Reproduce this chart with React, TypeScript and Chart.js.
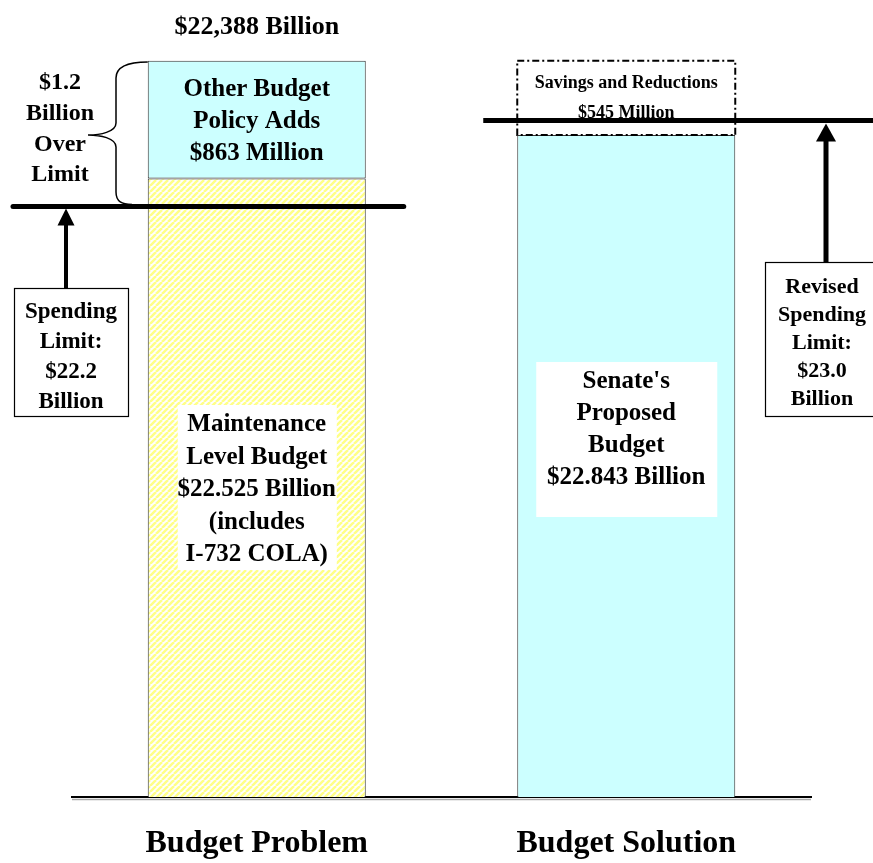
import React, { useEffect, useRef } from "react";
import { Chart, registerables } from "chart.js";

Chart.register(...registerables);

// ---- data ----
const categories = ["Budget Problem", "Budget Solution"];
const maintenanceLevel = [22.525, null];
const otherPolicyAdds = [0.863, null];
const senateProposed = [null, 22.843];
const savingsReductions = [null, 0.545];
// spending-limit lines, at the level they are drawn in the picture
const limitLineLevels = [22.32, 22.95];
const axisMin = 18.0;
const axisMax = 23.7;

// ---- labels ----
const topLabel = "$22,388 Billion";
const overLimitLines = ["$1.2", "Billion", "Over", "Limit"];
const otherAddsLines = ["Other Budget", "Policy Adds", "$863 Million"];
const maintenanceLines = ["Maintenance", "Level Budget", "$22.525 Billion", "(includes", "I-732 COLA)"];
const senateLines = ["Senate's", "Proposed", "Budget", "$22.843 Billion"];
const savingsLines = ["Savings and Reductions", "$545 Million"];
const limitBoxLines = ["Spending", "Limit:", "$22.2", "Billion"];
const revisedBoxLines = ["Revised", "Spending", "Limit:", "$23.0", "Billion"];

const FAMILY = '"Liberation Serif", "Times New Roman", serif';
const font = (s: number) => `bold ${s}px ${FAMILY}`;

function drawLines(ctx: CanvasRenderingContext2D, lines: string[], cx: number, y0: number, step: number, size: number) {
  ctx.save();
  ctx.font = font(size);
  ctx.fillStyle = "#000";
  ctx.textAlign = "center";
  ctx.textBaseline = "middle";
  lines.forEach((t, i) => ctx.fillText(t, cx, y0 + i * step));
  ctx.restore();
}

function arrowUp(ctx: CanvasRenderingContext2D, x: number, tipY: number, headH: number, headHalfW: number, shaftW: number, endY: number) {
  ctx.save();
  ctx.fillStyle = "#000";
  ctx.fillRect(x - shaftW / 2, tipY + headH - 1, shaftW, endY - (tipY + headH - 1));
  ctx.beginPath();
  ctx.moveTo(x, tipY);
  ctx.lineTo(x - headHalfW, tipY + headH);
  ctx.lineTo(x + headHalfW, tipY + headH);
  ctx.closePath();
  ctx.fill();
  ctx.restore();
}

function box(ctx: CanvasRenderingContext2D, x: number, y: number, w: number, h: number, stroke: boolean) {
  ctx.save();
  ctx.fillStyle = "#fff";
  ctx.fillRect(x, y, w, h);
  if (stroke) {
    ctx.strokeStyle = "#000";
    ctx.lineWidth = 1.2;
    ctx.strokeRect(x + 0.5, y + 0.5, w, h);
  }
  ctx.restore();
}

const annotations = {
  id: "annotations",
  afterDatasetsDraw(chart: any) {
    const ctx: CanvasRenderingContext2D = chart.ctx;
    const ys = chart.scales.y;
    const area = chart.chartArea;
    const left: any = chart.getDatasetMeta(0).data[0];
    const right: any = chart.getDatasetMeta(2).data[1];
    const sav: any = chart.getDatasetMeta(3).data[1];
    const lx = left.x;
    const rx = right.x;
    const bw = right.width;

    // dash-dot box for savings
    ctx.save();
    ctx.strokeStyle = "#000";
    ctx.lineWidth = 2;
    ctx.setLineDash([7, 3, 2, 3]);
    ctx.strokeRect(sav.x - bw / 2, sav.y, bw, sav.base - sav.y);
    ctx.restore();

    // text over bars
    drawLines(ctx, [topLabel], lx, 27, 0, 26);
    drawLines(ctx, otherAddsLines, lx, 90, 32, 25);
    box(ctx, lx - 79, 405, 159, 165, false);
    drawLines(ctx, maintenanceLines, lx, 425, 32.5, 25);
    box(ctx, rx - 90, 362, 181, 155, false);
    drawLines(ctx, senateLines, rx, 382, 32, 25);
    drawLines(ctx, savingsLines, rx, 83, 30, 18);
    drawLines(ctx, overLimitLines, 60, 83, 30.7, 24);

    // spending limit lines
    const y1 = ys.getPixelForValue(limitLineLevels[0]);
    const y2 = ys.getPixelForValue(limitLineLevels[1]);
    ctx.save();
    ctx.strokeStyle = "#000";
    ctx.lineWidth = 5;
    ctx.lineCap = "round";
    ctx.beginPath();
    ctx.moveTo(13, y1);
    ctx.lineTo(lx + 147, y1);
    ctx.stroke();
    ctx.lineCap = "butt";
    ctx.beginPath();
    ctx.moveTo(rx - 143, y2);
    ctx.lineTo(chart.width, y2);
    ctx.stroke();
    ctx.restore();

    // bracket
    ctx.save();
    ctx.strokeStyle = "#000";
    ctx.lineWidth = 1.5;
    ctx.beginPath();
    ctx.moveTo(lx - bw / 2, 62);
    ctx.bezierCurveTo(128, 62, 116, 66, 116, 78);
    ctx.lineTo(116, 123);
    ctx.bezierCurveTo(116, 132, 100, 135, 88, 135);
    ctx.bezierCurveTo(100, 135, 116, 138, 116, 147);
    ctx.lineTo(116, 192);
    ctx.bezierCurveTo(116, 202, 122, 204, 132, y1 - 2);
    ctx.stroke();
    ctx.restore();

    // arrows and boxes
    arrowUp(ctx, 66, y1 + 2, 17, 8.5, 4, 289);
    box(ctx, 14, 288, 114, 128, true);
    drawLines(ctx, limitBoxLines, 71, 312, 30, 23);

    arrowUp(ctx, 826, y2 + 3, 18, 10, 5, 263);
    box(ctx, 765, 262, 115, 154, true);
    drawLines(ctx, revisedBoxLines, 822, 287, 28, 22);

    // shadow under baseline
    ctx.save();
    ctx.strokeStyle = "#aaa";
    ctx.lineWidth = 1.5;
    ctx.beginPath();
    ctx.moveTo(area.left, area.bottom + 2.5);
    ctx.lineTo(area.right, area.bottom + 2.5);
    ctx.stroke();
    ctx.restore();
  },
};

export default function App() {
  const ref = useRef<HTMLCanvasElement>(null);
  useEffect(() => {
    const canvas = ref.current!;
    const pc = document.createElement("canvas");
    pc.width = 6;
    pc.height = 6;
    const p = pc.getContext("2d")!;
    p.fillStyle = "#ffffff";
    p.fillRect(0, 0, 6, 6);
    p.strokeStyle = "#ffff88";
    p.lineWidth = 2.5;
    for (const off of [-6, 0, 6]) {
      p.beginPath();
      p.moveTo(off, 6);
      p.lineTo(off + 6, 0);
      p.stroke();
    }
    const pattern = canvas.getContext("2d")!.createPattern(pc, "repeat")!;

    const common = { borderColor: "#333", borderWidth: 1, borderSkipped: false, clip: 0, barPercentage: 0.59, categoryPercentage: 1 };
    const chart = new Chart(canvas, {
      type: "bar",
      data: {
        labels: categories,
        datasets: [
          { label: "Maintenance Level Budget", data: maintenanceLevel, backgroundColor: pattern, ...common },
          { label: "Other Budget Policy Adds", data: otherPolicyAdds, backgroundColor: "#ccffff", ...common },
          { label: "Senate's Proposed Budget", data: senateProposed, backgroundColor: "#ccffff", ...common },
          { label: "Savings and Reductions", data: savingsReductions, backgroundColor: "rgba(0,0,0,0)", ...common, borderWidth: 0 },
        ] as any,
      },
      options: {
        responsive: false,
        animation: false,
        devicePixelRatio: 1,
        layout: { padding: { left: 72, right: 62, top: 18, bottom: 0 } },
        plugins: { legend: { display: false }, tooltip: { enabled: false }, title: { display: false } },
        scales: {
          x: {
            stacked: true,
            z: 1,
            grid: { display: false, drawTicks: false },
            border: { display: true, color: "#000", width: 2 },
            ticks: { color: "#000", maxRotation: 0, padding: 28, font: { family: FAMILY, size: 32, weight: "bold" } },
            afterFit: (s: any) => {
              s.height = 66;
            },
          },
          y: { stacked: true, display: false, min: axisMin, max: axisMax },
        },
      } as any,
      plugins: [annotations],
    });
    return () => chart.destroy();
  }, []);
  return (
    <div style={{ position: "fixed", left: 0, top: 0, width: 873, height: 863, background: "#fff" }}>
      <canvas ref={ref} width={873} height={863} style={{ display: "block" }} />
    </div>
  );
}
